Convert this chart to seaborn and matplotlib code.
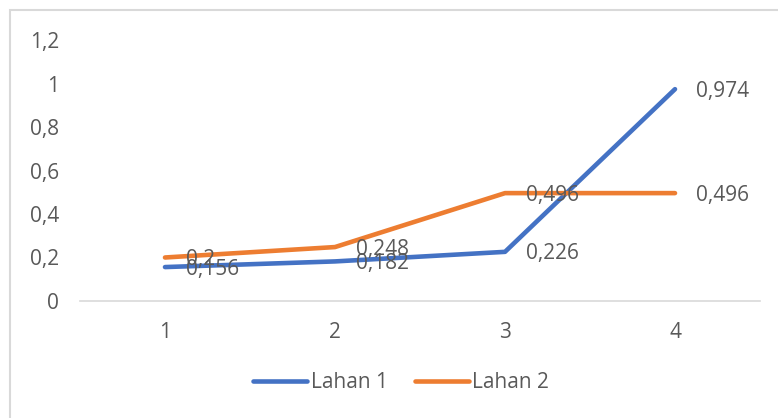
import pandas as pd
import seaborn as sns
from matplotlib import pyplot as plt
from matplotlib.patches import Rectangle
from matplotlib.ticker import FuncFormatter

# data -------------------------------------------------------------------------
categories = [1, 2, 3, 4]
lahan_1 = [0.156, 0.182, 0.226, 0.974]
lahan_2 = [0.2, 0.248, 0.496, 0.496]
series_names = ['Lahan 1', 'Lahan 2']
y_ticks = [0, 0.2, 0.4, 0.6, 0.8, 1.0, 1.2]


def comma(v, pos=None):
    return ('%g' % round(v, 3)).replace('.', ',')


def main():
    sns.set_style('white')
    plt.rcParams['font.family'] = ['Open Sans', 'DejaVu Sans']
    text_color = '#595959'
    fs = 15

    df = pd.DataFrame({
        'x': categories * 2,
        'y': lahan_1 + lahan_2,
        'series': [series_names[0]] * 4 + [series_names[1]] * 4,
    })
    palette = {series_names[0]: '#4472C4', series_names[1]: '#ED7D31'}

    fig = plt.figure(figsize=(7.78, 4.18), dpi=100)
    ax = fig.add_axes([80 / 778, 1 - 301 / 418, 680 / 778, 261 / 418])
    sns.lineplot(data=df, x='x', y='y', hue='series', palette=palette,
                 linewidth=3.3, ax=ax, solid_capstyle='round')

    # data labels to the right of the points
    for name, vals in zip(series_names, [lahan_1, lahan_2]):
        for xv, yv in zip(categories, vals):
            ax.annotate(comma(yv), (xv, yv), xytext=(15, -1.5), textcoords='offset points',
                        ha='left', va='center', fontsize=fs, color=text_color)

    ax.set_xlim(0.5, 4.5)
    ax.set_ylim(0, 1.2)
    ax.set_xticks(categories)
    ax.set_yticks(y_ticks)
    ax.yaxis.set_major_formatter(FuncFormatter(comma))
    ax.tick_params(axis='both', length=0, labelsize=fs, labelcolor=text_color)
    ax.tick_params(axis='y', pad=15)
    ax.tick_params(axis='x', pad=15)
    ax.set_xlabel('')
    ax.set_ylabel('')
    for s in ['top', 'right', 'left']:
        ax.spines[s].set_visible(False)
    ax.spines['bottom'].set_color('#D9D9D9')
    ax.spines['bottom'].set_linewidth(1.2)

    ax.legend(loc='center', bbox_to_anchor=(401 / 778, 1 - 383 / 418),
              bbox_transform=fig.transFigure, ncol=2, frameon=False,
              fontsize=fs, labelcolor=text_color, handlelength=2.6,
              handletextpad=0.15, columnspacing=1.3)
    for line in ax.get_legend().get_lines():
        line.set_linewidth(3.3)
        line.set_solid_capstyle('round')

    # chart border
    fig.patches.append(Rectangle((10 / 778, -0.1), 1.2, 1 - 10 / 418 + 0.1,
                                 transform=fig.transFigure, fill=False,
                                 edgecolor='#D9D9D9', linewidth=1.5))

    fig.savefig('out.png', dpi=100)


if __name__ == "__main__":
    main()
